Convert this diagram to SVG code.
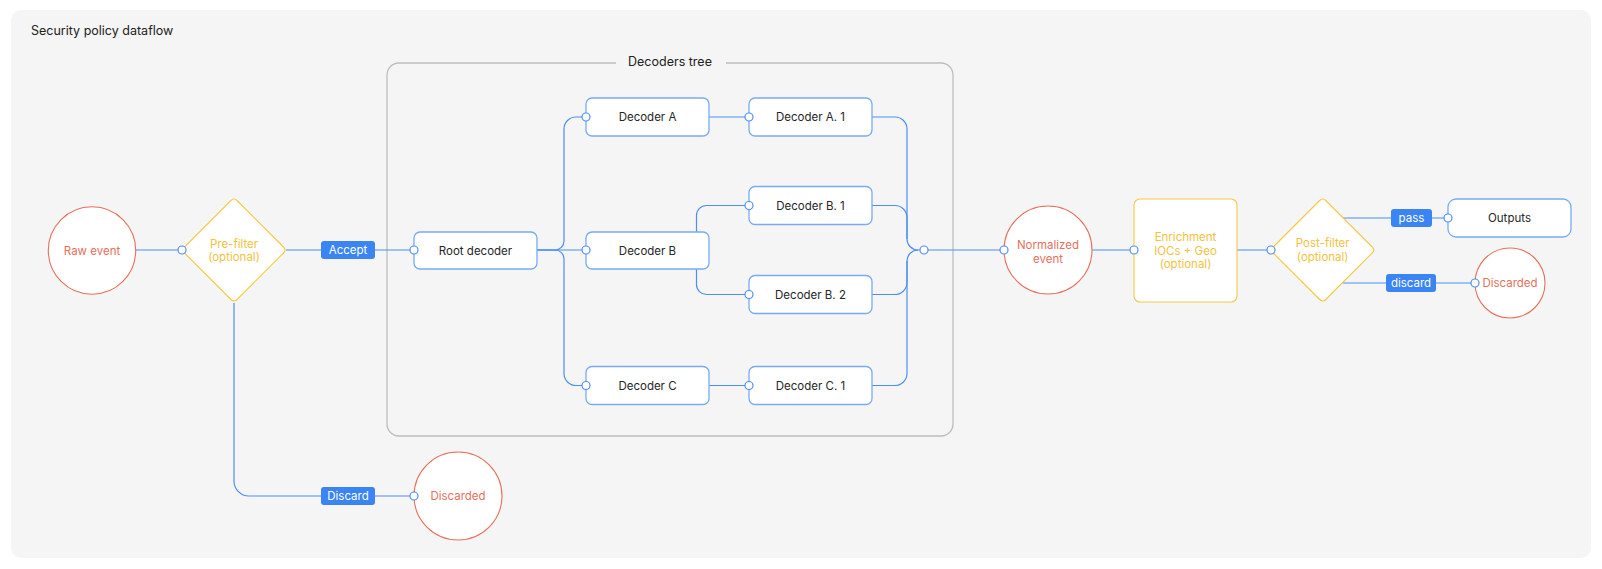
<svg xmlns="http://www.w3.org/2000/svg" width="1602" height="569" viewBox="0 0 1602 569">
<style>
text{font-family:Inter,"Liberation Sans",sans-serif;}
.t{font-size:11.5px;fill:#262626;text-anchor:middle;}
.red{font-size:11.5px;fill:#e8705c;text-anchor:middle;}
.yel{font-size:11.5px;fill:#f3c23c;text-anchor:middle;}
.lbl{font-size:11.5px;fill:#ffffff;text-anchor:middle;}
.node{fill:#ffffff;stroke:#78abf6;stroke-width:1.3;}
.circ{fill:#ffffff;stroke:#e8705c;stroke-width:1.1;}
.ynode{fill:#ffffff;stroke:#f6c944;stroke-width:1.1;}
.edge{fill:none;stroke:#4f8ff5;stroke-width:1.2;}
.dot{fill:#ffffff;stroke:#4f8ff5;stroke-width:1.2;}
.pill{fill:#3a84f4;}
</style>
<rect x="11" y="10" width="1580" height="548" rx="10" fill="#f5f5f5"/>
<text x="31" y="35" style="font-size:12.5px;fill:#222;">Security policy dataflow</text>

<g id="decoders-tree">
<path d="M616 63 H399 A12 12 0 0 0 387 75 V424 A12 12 0 0 0 399 436 H941 A12 12 0 0 0 953 424 V75 A12 12 0 0 0 941 63 H726" fill="none" stroke="#bdbdbd" stroke-width="1.3"/>
<text x="670" y="66" style="font-size:12.5px;fill:#222;text-anchor:middle;">Decoders tree</text>
</g>

<g id="connectors">
<path class="edge" d="M135.7 250 H182"/>
<path class="edge" d="M286 250 H414"/>
<path class="edge" d="M234 303 V481 A15 15 0 0 0 249 496 H414"/>
<path class="edge" d="M537 250 H555 A9 9 0 0 0 564 241 V129 A12 12 0 0 1 576 117 H586"/>
<path class="edge" d="M537 250 H586"/>
<path class="edge" d="M537 250 H555 A9 9 0 0 1 564 259 V373.5 A12 12 0 0 0 576 385.5 H586"/>
<path class="edge" d="M709 117 H749"/>
<path class="edge" d="M696.5 232 V215.5 A10 10 0 0 1 706.5 205.5 H749"/>
<path class="edge" d="M696.5 269 V284.5 A10 10 0 0 0 706.5 294.5 H749"/>
<path class="edge" d="M709 385.5 H749"/>
<path class="edge" d="M872 117 H895 A12 12 0 0 1 907 129 V239 A11 11 0 0 0 918 250 H924"/>
<path class="edge" d="M872 205.5 H895 A12 12 0 0 1 907 217.5 V239"/>
<path class="edge" d="M872 294.5 H895 A12 12 0 0 0 907 282.5 V261"/>
<path class="edge" d="M872 385.5 H895 A12 12 0 0 0 907 373.5 V261 A11 11 0 0 1 918 250"/>
<path class="edge" d="M924 250 H1004"/>
<path class="edge" d="M1092 250 H1134"/>
<path class="edge" d="M1237 250 H1271"/>
<path class="edge" d="M1343 218 H1448"/>
<path class="edge" d="M1343 283 H1475"/>
<g id="label-accept"><rect class="pill" x="321" y="241" width="54" height="18" rx="3"/><text class="lbl" x="348" y="254.2">Accept</text></g>
<g id="label-discard"><rect class="pill" x="321" y="487" width="54" height="18" rx="3"/><text class="lbl" x="348" y="500.2">Discard</text></g>
<g id="label-pass"><rect class="pill" x="1391" y="209" width="41" height="18" rx="3"/><text class="lbl" x="1411.5" y="222.2">pass</text></g>
<g id="label-discard2"><rect class="pill" x="1386" y="274" width="50" height="18" rx="3"/><text class="lbl" x="1411" y="287.2">discard</text></g>
</g>

<g id="raw-event">
<circle class="circ" cx="92" cy="250.5" r="43.7"/>
<text class="red" x="92" y="254.5">Raw event</text>
</g>

<g id="pre-filter">
<path class="ynode" d="M231 200.5 Q234 197.5 237 200.5 L283.5 247 Q286.5 250 283.5 253 L237 299.5 Q234 302.5 231 299.5 L184.5 253 Q181.5 250 184.5 247 Z"/>
<text class="yel" x="234" y="247.5">Pre-filter</text>
<text class="yel" x="234" y="261">(optional)</text>
</g>

<g id="root-decoder">
<rect class="node" x="414" y="232" width="123" height="37" rx="6"/>
<text class="t" x="475.5" y="254.5">Root decoder</text>
</g>
<g id="decoder-a">
<rect class="node" x="586" y="98" width="123" height="38" rx="6"/>
<text class="t" x="647.5" y="121">Decoder A</text>
</g>
<g id="decoder-b">
<rect class="node" x="586" y="232" width="123" height="37" rx="6"/>
<text class="t" x="647.5" y="254.5">Decoder B</text>
</g>
<g id="decoder-c">
<rect class="node" x="586" y="366.5" width="123" height="38" rx="6"/>
<text class="t" x="647.5" y="389.5">Decoder C</text>
</g>
<g id="decoder-a1">
<rect class="node" x="749" y="98" width="123" height="38" rx="6"/>
<text class="t" x="810.5" y="121">Decoder A. 1</text>
</g>
<g id="decoder-b1">
<rect class="node" x="749" y="186.5" width="123" height="38" rx="6"/>
<text class="t" x="810.5" y="209.5">Decoder B. 1</text>
</g>
<g id="decoder-b2">
<rect class="node" x="749" y="275.5" width="123" height="38" rx="6"/>
<text class="t" x="810.5" y="298.5">Decoder B. 2</text>
</g>
<g id="decoder-c1">
<rect class="node" x="749" y="366.5" width="123" height="38" rx="6"/>
<text class="t" x="810.5" y="389.5">Decoder C. 1</text>
</g>

<g id="normalized-event">
<circle class="circ" cx="1048" cy="250" r="44"/>
<text class="red" x="1048" y="249">Normalized</text>
<text class="red" x="1048" y="262.5">event</text>
</g>

<g id="enrichment">
<rect class="ynode" x="1134" y="199" width="103" height="103" rx="6"/>
<text class="yel" x="1185.5" y="241">Enrichment</text>
<text class="yel" x="1185.5" y="254.5">IOCs + Geo</text>
<text class="yel" x="1185.5" y="267.5">(optional)</text>
</g>

<g id="post-filter">
<path class="ynode" d="M1319.7 200.5 Q1322.7 197.5 1325.7 200.5 L1372.2 247 Q1375.2 250 1372.2 253 L1325.7 299.5 Q1322.7 302.5 1319.7 299.5 L1273.2 253 Q1270.2 250 1273.2 247 Z"/>
<text class="yel" x="1322.7" y="247">Post-filter</text>
<text class="yel" x="1322.7" y="261">(optional)</text>
</g>

<g id="outputs">
<rect class="node" x="1448" y="199" width="123" height="38" rx="8"/>
<text class="t" x="1509.5" y="222">Outputs</text>
</g>

<g id="discarded-post">
<circle class="circ" cx="1510" cy="283" r="35"/>
<text class="red" x="1510" y="287">Discarded</text>
</g>

<g id="discarded-pre">
<circle class="circ" cx="458" cy="496" r="44"/>
<text class="red" x="458" y="500">Discarded</text>
</g>

<g id="ports">
<circle class="dot" cx="182" cy="250" r="4"/>
<circle class="dot" cx="414" cy="250" r="4"/>
<circle class="dot" cx="414" cy="496" r="4"/>
<circle class="dot" cx="586" cy="117" r="4"/>
<circle class="dot" cx="586" cy="250" r="4"/>
<circle class="dot" cx="586" cy="385.5" r="4"/>
<circle class="dot" cx="749" cy="117" r="4"/>
<circle class="dot" cx="749" cy="205.5" r="4"/>
<circle class="dot" cx="749" cy="294.5" r="4"/>
<circle class="dot" cx="749" cy="385.5" r="4"/>
<circle class="dot" cx="924" cy="250" r="4"/>
<circle class="dot" cx="1004" cy="250" r="4"/>
<circle class="dot" cx="1134" cy="250" r="4"/>
<circle class="dot" cx="1271" cy="250" r="4"/>
<circle class="dot" cx="1448" cy="218" r="4"/>
<circle class="dot" cx="1475" cy="283" r="4"/>
</g>
</svg>
